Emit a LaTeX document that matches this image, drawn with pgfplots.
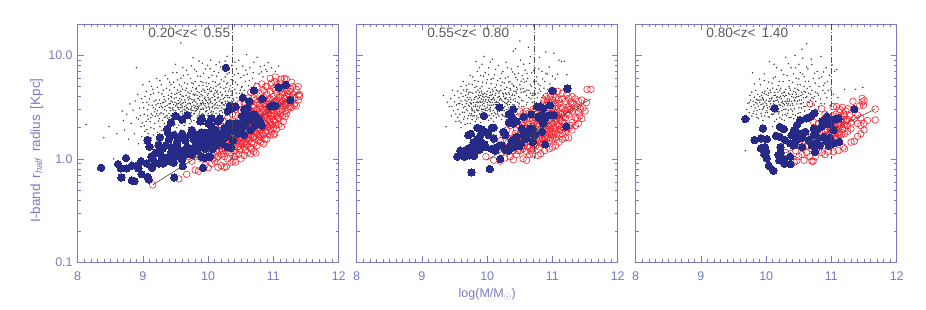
\documentclass[border=0pt]{standalone}
\usepackage{pgfplots}
\pgfplotsset{compat=1.18}
\usepackage{fontspec}
\setmainfont{Liberation Sans}
\definecolor{axc}{RGB}{122,122,192}
\definecolor{blu}{RGB}{38,42,134}
\definecolor{rd}{RGB}{245,35,48}
\definecolor{gt}{RGB}{90,90,90}
\pgfplotsset{
 mypanel/.style={scale only axis,width=261pt,height=238pt,anchor=south west,
  xmin=8,xmax=12,ymin=0.1,ymax=20,
  xtick={8,9,10,11,12},xticklabels={8,9,10,11,12},minor x tick num=9,
  ytick={0.1,1,10},
  tick align=inside,major tick length=6pt,minor tick length=3pt,
  axis line style={axc,line width=0.7pt},
  every tick/.style={axc,line width=0.5pt},
  every minor tick/.style={axc,line width=0.5pt},
  tick label style={font=\fontsize{12.5}{13}\selectfont,text=axc},
  xticklabel style={yshift=-6pt},
  yticklabel style={xshift=-1.5pt},
  clip mode=global,
  /pgf/number format/assume math mode=true},
 myover/.style={scale only axis,width=261pt,height=238pt,anchor=south west,
  xmin=8,xmax=12,ymin=0.1,ymax=20,hide axis},
 myblk/.style={only marks,mark=*,mark size=0.48pt,black!78,mark options={draw=none,fill=black!78}},
 myred/.style={only marks,mark=o,mark size=3.3pt,rd,mark options={line width=0.6pt,fill=none}},
 myblu/.style={only marks,mark=*,mark size=3.7pt,blu,mark options={draw=blu,fill=blu,line width=0pt}},
 myfit/.style={no marks,black!75,line width=0.55pt},
 myvert/.style={no marks,black!70,line width=0.5pt,dash pattern=on 6pt off 2pt on 1pt off 2pt},
}
\newcommand{\ztitle}[1]{\node[text=gt,font=\fontsize{13.6}{14}\selectfont,anchor=west] at (axis cs:9.03,16.4) {#1};}
\begin{document}
\begin{tikzpicture}[x=1pt,y=1pt]
\useasboundingbox (0,0) rectangle (926,309);
\begin{semilogyaxis}[mypanel,at={(77.7pt,46.7pt)},yticklabels={0.1,1.0,10.0},
 ylabel={I-band\, r$_{\mathit{half}}$\, radius\, [Kpc]},
 ylabel style={text=axc,font=\fontsize{13.5}{15}\selectfont,at={(axis description cs:-0.12,0.47)},anchor=south}]
\addplot[myblk] coordinates {(8.13,2.15)(8.4,1.6)(8.48,2.05)(8.55,1.0)(8.6,1.75)(8.68,2.9)(8.7,2.35)(8.72,1.9)(8.75,2.7)(8.78,1.55)(8.8,3.4)(8.82,2.2)(8.85,2.95)(8.87,1.75)(8.9,7.6)(8.9,2.5)(8.92,4.2)(8.93,1.4)(8.95,3.1)(8.97,2.05)(8.98,1.65)(9.0,5.2)(9.0,3.5)(9.02,2.7)(9.03,1.85)(9.05,4.5)(9.05,2.3)(9.07,3.0)(9.08,1.75)(9.1,5.6)(9.1,3.8)(9.12,2.5)(9.12,2.0)(9.14,3.3)(9.15,4.7)(9.16,1.7)(9.18,2.85)(9.18,2.2)(9.2,3.7)(9.21,6.0)(9.22,1.8)(9.23,2.6)(9.24,4.4)(9.25,3.15)(9.26,2.05)(9.28,5.2)(9.28,2.8)(9.3,3.5)(9.3,2.35)(9.31,1.65)(9.32,4.0)(9.33,3.0)(9.34,6.4)(9.35,2.55)(9.36,4.8)(9.37,3.3)(9.38,2.1)(9.39,3.8)(9.4,2.75)(9.41,5.5)(9.42,1.85)(9.42,3.1)(9.44,4.3)(9.45,2.4)(9.45,3.55)(9.46,6.8)(9.47,2.95)(9.48,4.9)(9.49,2.15)(9.5,3.25)(9.5,8.2)(9.51,3.9)(9.52,2.7)(9.53,5.8)(9.54,1.75)(9.55,4.4)(9.55,3.0)(9.56,2.35)(9.57,3.55)(9.58,13.2)(9.58,2.85)(9.59,5.0)(9.6,3.25)(9.6,4.05)(9.61,2.55)(9.62,6.4)(9.63,2.1)(9.64,3.7)(9.65,2.95)(9.65,4.6)(9.66,3.3)(9.67,7.2)(9.68,2.45)(9.68,5.3)(9.69,3.9)(9.7,2.8)(9.71,3.45)(9.72,4.3)(9.72,2.2)(9.73,6.0)(9.74,3.1)(9.75,3.75)(9.75,2.6)(9.76,4.9)(9.77,9.5)(9.78,3.3)(9.78,2.35)(9.79,4.1)(9.8,5.6)(9.8,2.9)(9.81,3.55)(9.82,7.0)(9.83,4.5)(9.84,2.6)(9.84,3.2)(9.85,3.85)(9.86,5.1)(9.87,2.85)(9.88,6.3)(9.88,3.45)(9.89,4.2)(9.9,3.0)(9.91,8.4)(9.91,3.65)(9.92,5.5)(9.93,2.7)(9.94,4.6)(9.95,3.25)(9.95,3.95)(9.96,7.4)(9.97,2.9)(9.98,5.0)(9.99,3.5)(10.0,4.3)(10.0,2.75)(10.01,6.1)(10.02,3.15)(10.03,3.8)(10.04,9.0)(10.04,4.9)(10.05,2.9)(10.06,3.45)(10.07,5.6)(10.08,4.15)(10.09,7.0)(10.1,3.05)(10.1,3.7)(10.11,4.6)(10.12,2.75)(10.13,6.3)(10.14,3.3)(10.15,5.2)(10.16,3.95)(10.17,8.6)(10.18,2.9)(10.19,4.4)(10.2,3.5)(10.2,5.8)(10.21,3.1)(10.22,7.4)(10.23,3.8)(10.24,4.8)(10.25,3.3)(10.26,6.2)(10.27,4.1)(10.28,5.3)(10.29,9.8)(10.3,3.6)(10.31,4.5)(10.32,6.8)(10.33,3.9)(10.34,5.1)(10.35,3.45)(10.36,8.0)(10.37,4.3)(10.38,5.7)(10.39,3.7)(10.4,6.5)(10.41,4.7)(10.43,7.4)(10.44,3.9)(10.45,5.2)(10.47,9.0)(10.48,4.3)(10.5,6.1)(10.52,5.0)(10.53,7.9)(10.55,4.6)(10.57,5.6)(10.59,10.2)(10.6,6.6)(10.62,5.1)(10.64,7.6)(10.66,4.9)(10.68,6.0)(10.7,8.6)(10.72,5.4)(10.75,9.6)(10.78,6.6)(10.8,7.8)(10.84,6.2)(10.88,7.3)(10.92,8.5)(10.97,7.6)(11.03,7.0)(11.08,7.9)(9.27,1.55)(9.35,1.7)(9.44,1.75)(9.52,2.0)(9.58,1.9)(9.63,1.85)(9.7,2.0)(9.33,3.75)(9.47,3.35)(9.53,3.15)(9.57,4.2)(9.62,3.5)(9.67,3.1)(9.73,3.4)(9.77,2.95)(9.82,3.05)(9.86,3.25)(9.9,4.5)(9.93,3.4)(9.97,3.65)(10.01,3.4)(10.03,4.5)(10.07,3.2)(10.11,3.4)(10.15,3.1)(10.19,3.75)(10.22,4.2)(10.26,3.6)(10.3,4.1)(9.4,3.4)(9.43,2.65)(9.48,2.6)(9.52,3.45)(9.55,2.7)(9.6,2.9)(9.64,3.2)(9.69,3.4)(9.74,2.8)(9.79,2.75)(9.83,3.4)(9.87,3.7)(9.92,3.1)(9.96,2.85)(9.99,4.7)
(9.63,3.02)(9.17,3.62)(9.91,4.08)(9.48,2.31)(10.12,5.02)(9.36,2.92)(9.77,5.31)(10.27,3.44)(9.54,3.66)(9.07,2.62)(9.83,2.48)(10.04,3.62)(9.29,4.25)(9.71,2.62)(10.18,3.26)(9.44,3.92)(9.93,3.02)(9.61,4.72)(10.33,4.72)(9.24,2.32)(9.86,4.36)(9.58,3.34)(10.08,2.86)(9.41,4.62)(9.74,4.52)(10.21,4.08)(9.34,3.22)(9.97,5.42)(9.51,2.52)(10.36,3.62)(9.12,4.18)(9.79,3.72)(10.02,3.02)(9.66,2.72)(9.46,3.12)(10.14,3.88)(9.88,2.62)(9.27,3.42)(9.56,5.18)(10.24,3.02)(9.73,3.02)(9.99,4.12)(9.38,2.48)(9.82,4.82)(10.1,4.32)(9.62,2.42)(9.49,4.22)(10.3,5.42)(9.19,3.02)(9.94,2.62)(9.69,4.42)(10.17,2.72)(9.42,2.92)(9.85,3.12)(10.06,3.92)(9.57,2.58)(9.32,3.52)(9.76,3.52)(10.22,3.52)(9.89,3.32)(9.52,4.32)(10.0,3.22)(9.65,3.52)(9.22,2.92)(10.13,3.52)(9.78,2.72)(9.43,3.62)(9.92,4.72)(10.38,3.22)(9.59,3.72)(9.31,2.72)(10.05,4.52)(9.84,3.02)(9.7,3.72)(9.47,2.72)(10.19,4.92)(9.96,3.42)(9.25,3.72)(9.61,2.72)(10.09,3.32)(9.8,4.22)(9.37,2.62)(10.26,4.52)(9.54,3.12)(9.91,2.72)(9.68,3.12)(10.15,4.22)(9.45,3.02)(9.75,3.22)(10.02,4.72)(9.28,3.22)(9.87,4.02)(9.56,3.82)(10.32,3.52)(9.72,3.82)(9.39,4.12)(9.97,3.12)(10.11,3.72)(9.6,3.42)(9.82,2.92)(9.2,3.32)(10.23,3.32)(9.5,2.92)(9.94,3.82)(9.67,2.52)(10.07,2.72)(9.42,3.42)(9.77,4.22)(10.2,2.92)(9.33,2.52)(9.89,2.52)(9.58,4.52)(10.03,3.52)(9.73,2.42)(9.15,2.62)(9.48,3.82)(9.84,3.82)(10.12,3.12)(9.62,4.02)(9.26,2.72)(9.95,4.42)(10.28,3.02)(9.53,2.42)(9.7,3.02)(9.4,3.12)(9.81,3.22)(10.06,3.12)(9.64,2.82)(9.9,3.42)(9.35,3.62)(10.17,3.62)(9.55,3.42)(9.75,2.92)(10.0,3.92)(9.46,2.52)(9.86,2.72)(10.1,4.02)(9.6,3.12)(9.3,3.12)(9.98,2.92)(9.71,4.02)(10.25,3.92)(9.43,4.02)(9.83,4.12)(10.04,2.82)(9.52,3.32)(9.92,3.52)(9.66,4.12)(10.35,4.12)(9.23,3.42)(9.78,3.62)(10.14,4.52)(9.57,3.12)(9.88,3.02)(9.41,2.52)(10.01,3.72)(9.68,2.82)(10.21,3.42)(9.49,3.52)(9.79,3.12)(9.96,3.72)
(9.02,1.42)(9.13,1.58)(9.06,1.92)(9.21,1.46)(9.17,1.95)(9.29,1.88)(9.33,2.18)(9.11,2.28)(9.25,2.45)(9.38,1.58)(9.02,2.08)(9.19,2.58)(9.41,2.22)(9.34,1.92)(9.47,2.08)(9.55,2.12)(8.96,2.62)(9.09,3.32)(8.88,3.62)(9.03,4.02)(9.16,4.32)(9.13,5.02)(9.26,5.72)(9.22,4.92)(9.31,4.62)(9.43,5.22)(9.38,5.92)(9.52,6.82)(9.47,5.52)(9.58,6.02)(9.64,5.42)(9.69,6.52)(9.61,7.62)(9.74,7.92)(9.84,6.32)(9.79,7.32)(9.93,6.72)(9.89,5.62)(10.03,7.42)(10.06,6.42)(10.11,5.52)(10.16,6.82)(10.24,5.62)(10.19,7.72)(10.29,6.62)(10.35,5.82)(10.42,5.52)(10.46,6.72)(10.51,4.92)(10.55,6.42)(10.41,8.62)(10.49,4.62)(10.58,7.22)(10.63,5.72)(10.69,6.82)(10.82,6.92)(10.86,8.02)(10.9,7.02)(9.99,8.02)(9.86,8.82)(10.12,8.12)(10.26,8.82)(9.67,4.82)(9.75,5.42)(9.53,4.62)(9.81,4.72)(9.92,5.12)(10.01,5.32)(10.08,4.82)(10.13,4.42)(10.18,5.32)(10.27,4.92)(10.35,4.52)(10.3,3.92)(10.38,3.82)(10.43,4.32)(10.48,3.72)(10.52,4.32)(9.99,2.62)(10.07,2.62)(10.14,2.52)(10.22,2.82)(10.29,2.62)(9.9,2.42)(9.74,2.32)(9.65,2.22)(9.58,2.22)(9.5,1.85)(9.38,1.78)(9.13,2.72)(9.08,2.42)(8.99,2.22)(8.93,2.42)(9.01,3.12)(9.06,3.52)(8.98,3.82)(9.16,3.12)(9.21,2.72)};
\addplot[myred] coordinates {(9.15,.56)(9.55,.64)(9.67,.71)(9.8,.78)(9.85,.76)(9.95,.87)(10.0,.82)(10.05,.9)(10.1,.95)(10.15,.83)(10.2,.86)(10.25,.83)(10.28,.84)(10.3,1.0)(10.35,.92)(10.38,.95)(10.4,1.05)(10.42,.93)(10.47,1.1)(10.5,1.0)(10.55,1.08)(10.6,1.15)(10.65,1.12)(10.7,1.18)(10.73,1.14)(10.5,1.25)(10.45,1.3)(10.4,1.2)(10.35,1.15)(10.3,1.2)(10.25,1.05)(10.2,1.1)(10.15,1.05)(10.1,1.1)(10.05,1.15)(10.0,1.3)(9.9,1.0)(9.9,1.2)(9.75,.95)(9.7,1.05)(9.65,1.15)(10.1,1.3)(10.15,1.45)(10.2,1.25)(10.25,1.35)(10.3,1.45)(10.35,1.35)(10.4,1.5)(10.45,1.45)(10.5,1.4)(10.55,1.3)(10.6,1.35)(10.65,1.3)(10.7,1.4)(10.75,1.35)(10.8,1.45)(10.85,1.4)(10.9,1.55)(10.95,1.7)(11.0,1.7)(11.02,1.75)(10.8,1.65)(10.85,1.7)(10.9,1.85)(10.95,1.95)(11.0,2.0)(11.05,1.95)(11.08,2.15)(11.12,2.05)(11.15,2.3)(11.18,2.55)(11.2,2.75)(11.25,3.2)(11.28,3.15)(11.35,3.25)(11.38,3.7)(11.4,4.0)(11.32,3.9)(11.38,4.15)(11.3,4.2)(11.25,4.0)(11.2,3.5)(11.15,3.2)(11.1,2.9)(11.05,2.6)(11.0,2.4)(10.95,2.25)(10.9,2.15)(10.85,2.0)(10.8,1.9)(10.75,1.75)(10.7,1.65)(10.65,1.6)(10.6,1.55)(10.55,1.6)(10.5,1.65)(10.45,1.7)(10.4,1.75)(10.35,1.7)(10.3,1.6)(10.25,1.55)(10.2,1.5)(10.55,1.85)(10.6,1.8)(10.65,1.9)(10.7,1.95)(10.75,2.0)(10.8,2.15)(10.85,2.3)(10.9,2.45)(10.95,2.6)(11.0,2.75)(11.05,2.9)(11.1,3.25)(11.15,3.6)(11.2,4.0)(11.25,4.5)(11.3,5.0)(11.38,5.0)(11.28,5.5)(11.2,5.9)(11.17,6.0)(11.12,5.9)(11.03,6.2)(10.95,6.0)(10.88,5.0)(10.82,5.3)(10.75,5.0)(10.65,4.4)(10.62,3.9)(10.55,3.5)(10.48,3.4)(10.42,3.0)(10.37,2.7)(10.3,2.5)(10.25,2.3)(10.2,2.1)(10.15,1.9)(10.1,1.7)(10.6,2.2)(10.65,2.3)(10.7,2.45)(10.75,2.6)(10.8,2.8)(10.85,2.95)(10.9,3.1)(10.95,3.3)(11.0,3.5)(11.05,3.7)(11.1,4.0)(11.15,4.4)(11.2,4.7)(11.1,4.6)(11.05,4.3)(11.0,4.0)(10.95,3.8)(10.9,3.6)(10.85,3.4)(10.8,3.2)(10.75,3.0)(10.7,2.85)(10.65,2.7)(10.6,2.55)(10.55,2.4)(10.5,2.25)(10.45,2.05)(10.4,2.3)(10.35,2.15)(10.3,2.0)(10.25,1.85)(10.2,1.7)(10.7,3.3)(10.75,3.5)(10.8,3.7)(10.85,3.95)(10.9,4.2)(10.95,4.5)(11.0,4.8)(11.05,5.2)(11.1,5.4)(10.9,5.0)(10.85,4.6)(10.8,4.3)(10.75,4.1)(10.7,3.9)(10.65,3.5)(10.6,3.2)(10.5,2.9)(10.55,2.9)(10.97,5.4)(11.02,5.6)(11.35,4.7)(11.4,4.2)(11.33,3.45)(11.22,3.0)(11.18,2.9)(11.08,2.45)(11.03,2.25)(10.98,2.15)(10.93,2.05)(10.88,1.8)(10.83,1.75)(10.78,1.6)(10.72,1.55)(10.67,1.45)(10.62,1.5)(10.57,1.45)(10.52,1.5)(10.47,1.55)(10.42,1.4)(10.37,1.5)(10.32,1.3)(10.27,1.25)(10.22,1.2)(10.17,1.2)(10.12,1.2)(10.07,1.0)(10.02,1.05)(9.97,1.1)(9.85,1.1)(9.8,1.05)(11.12,3.5)(11.07,3.3)(11.02,3.1)(10.97,2.95)(10.92,2.8)(10.87,2.65)(10.82,2.5)(10.77,2.3)(10.72,2.2)(10.67,2.05)(10.62,2.0)(10.57,2.05)(10.52,2.0)(10.47,1.9)(11.17,3.9)(11.22,4.3)(11.27,4.7)(11.13,4.2)(11.08,3.9)(11.03,3.6)(10.98,3.4)(10.93,3.4)(10.88,3.2)(10.83,3.05)(10.78,2.85)(10.73,2.65)(10.68,2.5)(10.63,2.4)(10.58,2.25)
(10.66,1.72)(10.83,2.08)(10.58,1.38)(10.94,2.42)(10.72,1.82)(10.48,1.22)(11.06,2.72)(10.77,2.42)(10.62,1.68)(10.91,2.02)(10.35,1.25)(11.13,3.02)(10.52,1.78)(10.87,2.52)(10.68,2.18)(10.99,3.22)(10.42,1.62)(10.78,1.72)(11.09,3.62)(10.55,1.42)(10.93,2.72)(10.71,2.12)(10.37,1.82)(11.16,3.42)(10.63,2.12)(10.84,2.82)(10.5,1.58)(11.01,2.32)(10.74,2.32)(10.27,1.42)(10.97,2.62)(10.59,1.95)(10.89,2.12)(10.44,1.82)(11.04,3.42)(10.69,1.62)(10.81,2.42)(10.33,1.62)(11.11,2.72)(10.56,1.72)(10.92,3.02)(10.76,1.92)(10.46,1.32)(11.0,3.22)(10.64,2.22)(10.86,2.22)(10.39,1.42)(11.07,2.52)(10.73,2.95)(10.53,2.15)(10.96,2.12)(10.82,2.02)(10.61,1.62)(10.23,1.12)(10.13,1.02)(10.18,1.32)(10.28,1.52)(10.43,1.12)(10.57,1.22)(10.67,1.25)(10.77,1.5)(10.87,1.55)(10.97,1.82)(11.18,3.3)(11.23,3.72)(11.14,2.62)(11.04,2.12)(10.88,2.72)(10.79,3.42)(10.69,3.12)(10.59,2.72)(10.49,2.52)(10.39,1.98)(10.29,1.75)(10.83,3.62)(10.93,3.82)(11.03,4.62)(11.13,4.82)(10.73,3.72)(10.63,3.02)(11.32,3.3)(11.26,3.52)};
\addplot[myblu] coordinates {(8.36,.82)(8.62,.89)(8.66,.81)(8.67,.66)(8.74,1.02)(8.75,.81)(8.83,.86)(8.83,.62)(8.87,.61)(8.91,.86)(8.93,.81)(8.98,.71)(8.97,.95)(9.06,.9)(9.07,.67)(9.09,.63)(9.07,1.52)(9.1,1.31)(9.14,.82)(9.13,1.05)(9.18,.9)(9.25,.9)(9.31,.9)(9.47,.92)(9.48,.66)(9.61,.85)(9.26,1.61)(9.24,1.36)(9.15,1.0)(9.2,1.15)(9.3,1.25)(9.28,1.08)(9.35,1.35)(9.36,1.02)(9.4,.95)(9.42,1.1)(9.43,1.3)(9.4,1.55)(9.37,1.95)(9.38,1.8)(9.43,2.25)(9.5,2.6)(9.6,2.4)(9.68,2.65)(9.47,1.7)(9.52,1.45)(9.55,1.2)(9.5,1.05)(9.58,1.05)(9.6,.98)(9.55,1.6)(9.6,1.75)(9.65,1.5)(9.68,1.3)(9.7,1.15)(9.62,1.2)(9.72,1.7)(9.75,1.9)(9.78,1.55)(9.8,1.35)(9.75,1.1)(9.82,1.7)(9.85,1.5)(9.88,2.3)(9.9,2.45)(9.9,1.8)(9.92,1.6)(9.95,1.4)(9.95,1.25)(9.9,1.05)(9.92,.82)(9.95,1.02)(10.0,1.05)(10.03,1.05)(10.0,1.5)(10.0,1.8)(10.05,2.05)(10.05,2.45)(10.0,2.2)(10.08,1.7)(10.1,1.5)(10.12,1.9)(10.15,2.3)(10.18,2.45)(10.2,1.6)(10.22,1.4)(10.25,2.0)(10.25,1.75)(10.27,7.6)(10.3,1.3)(10.35,1.28)(10.3,1.65)(10.32,2.2)(10.35,1.9)(10.3,2.9)(10.33,3.25)(10.38,3.1)(10.42,3.2)(10.4,2.0)(10.45,1.75)(10.5,1.9)(10.5,2.2)(10.52,2.6)(10.53,3.9)(10.55,3.0)(10.6,2.7)(10.6,3.1)(10.63,3.6)(10.6,2.3)(10.65,1.9)(10.55,1.7)(10.7,2.3)(10.7,2.7)(10.7,4.6)(10.75,2.5)(10.8,2.2)(10.82,2.1)(10.83,3.8)(10.95,3.2)(11.0,3.3)(11.03,3.25)(11.08,4.9)(11.19,5.2)(11.26,3.7)(9.3,1.0)(9.45,1.2)(9.53,1.3)(9.65,1.1)(9.72,1.25)(9.78,1.75)(9.83,1.2)(9.88,1.3)(9.97,1.65)(10.03,1.35)(10.07,1.25)(10.13,1.35)(10.18,1.75)(10.23,1.55)(10.28,1.85)(10.38,1.5)(10.42,2.2)(10.47,2.1)(10.57,2.1)(10.62,2.5)(10.67,2.6)(10.72,2.1)(10.78,2.4)};
\ztitle{0.20<z<\, 0.55}
\end{semilogyaxis}
\begin{semilogyaxis}[myover,at={(77.7pt,46.7pt)}]
\addplot[myfit] coordinates {(9.15,.56)(11.4,4.4)};
\addplot[myvert] coordinates {(10.37,20)(10.37,1.0)};
\end{semilogyaxis}
\begin{semilogyaxis}[mypanel,at={(356.7pt,46.7pt)},yticklabels={},
 xlabel={log(M/M$_\odot$)},
 xlabel style={text=axc,font=\fontsize{12.5}{13}\selectfont,yshift=-1pt}]
\addplot[myblk] coordinates {(9.33,4.1)(9.37,2.05)(9.42,3.2)(9.45,2.6)(9.47,4.6)(9.5,3.55)(9.52,2.3)(9.55,3.0)(9.57,3.9)(9.58,2.7)(9.6,4.3)(9.6,2.0)(9.62,3.35)(9.63,5.6)(9.65,2.55)(9.66,3.7)(9.68,3.0)(9.69,4.7)(9.7,2.2)(9.71,3.3)(9.72,5.3)(9.73,2.75)(9.74,3.9)(9.75,4.4)(9.76,3.1)(9.77,2.4)(9.78,6.2)(9.79,3.5)(9.8,2.9)(9.81,4.9)(9.82,3.2)(9.83,4.0)(9.84,2.6)(9.85,7.0)(9.85,3.55)(9.86,5.6)(9.87,2.95)(9.88,4.4)(9.89,3.25)(9.9,6.4)(9.9,2.7)(9.91,3.8)(9.92,5.0)(9.93,3.0)(9.94,4.2)(9.95,9.8)(9.95,3.45)(9.96,2.8)(9.97,6.8)(9.98,3.75)(9.99,5.4)(10.0,3.15)(10.0,4.5)(10.01,2.65)(10.02,7.6)(10.03,3.6)(10.04,4.1)(10.05,2.9)(10.06,5.9)(10.07,3.3)(10.08,9.2)(10.08,4.7)(10.09,3.85)(10.1,2.6)(10.11,6.5)(10.12,3.1)(10.13,4.3)(10.14,5.2)(10.15,3.5)(10.16,2.85)(10.17,8.0)(10.18,4.0)(10.19,3.7)(10.2,6.0)(10.21,4.6)(10.22,3.35)(10.23,2.7)(10.24,7.0)(10.25,4.2)(10.26,5.4)(10.27,3.2)(10.28,3.8)(10.29,8.6)(10.3,4.9)(10.31,3.5)(10.32,6.2)(10.33,4.4)(10.34,2.95)(10.35,5.6)(10.36,3.75)(10.37,7.4)(10.38,4.1)(10.39,3.35)(10.4,11.0)(10.41,5.0)(10.42,6.6)(10.43,3.6)(10.44,4.5)(10.45,3.0)(10.46,5.8)(10.47,7.8)(10.48,4.0)(10.49,3.4)(10.5,5.2)(10.51,9.0)(10.52,4.4)(10.53,3.7)(10.54,6.4)(10.55,4.8)(10.56,3.2)(10.57,5.5)(10.58,7.2)(10.6,4.1)(10.61,3.5)(10.62,6.0)(10.63,12.0)(10.64,4.6)(10.65,8.4)(10.66,5.2)(10.67,3.8)(10.68,6.8)(10.7,4.3)(10.71,5.6)(10.72,3.6)(10.73,7.6)(10.74,4.8)(10.76,6.2)(10.77,3.9)(10.78,5.3)(10.8,9.6)(10.82,4.5)(10.84,7.0)(10.86,4.1)(10.88,5.6)(10.9,10.8)(10.92,6.6)(10.93,4.7)(10.96,5.3)(11.0,6.3)(11.02,10.5)(11.05,4.7)(11.08,6.6)(11.1,9.0)(11.14,8.7)(11.18,8.8)(11.22,6.5)(10.43,11.6)(10.5,13.8)(9.72,3.75)(9.76,3.4)(9.8,3.75)(9.84,3.0)(9.87,3.5)(9.9,4.1)(9.93,3.55)(9.96,4.3)(9.98,3.05)(10.01,3.95)(10.03,3.0)(10.05,4.4)(10.07,3.75)(10.1,3.35)(10.12,4.9)(10.14,3.6)(10.17,3.2)(10.19,4.5)(10.21,3.0)(10.24,3.6)(10.27,4.7)(10.3,3.0)(10.33,3.6)(10.35,4.8)(10.38,5.3)(10.42,4.1)(10.46,4.7)(10.5,3.9)(9.6,2.25)(9.66,2.15)(9.7,2.45)(9.74,2.2)(9.78,2.6)(9.82,2.3)(9.86,2.5)(9.9,2.25)(9.94,2.45)(9.98,2.55)(10.02,2.35)(10.06,2.45)(10.1,2.3)(10.14,2.5)(10.18,2.6)(10.22,2.4)(10.26,2.55)(10.3,2.6)(9.88,3.95)(9.92,2.85)(9.95,3.95)(10.0,3.5)(10.04,3.3)(10.09,2.95)(10.13,3.35)(10.16,4.5)(10.2,3.25)(10.25,3.1)(10.29,3.9)(10.34,3.35)(10.37,3.2)
(9.83,3.52)(10.16,3.92)(9.71,2.62)(10.03,4.82)(9.93,3.32)(10.27,3.52)(9.78,4.32)(10.11,2.82)(9.64,3.12)(10.39,4.22)(9.88,2.72)(10.06,3.72)(9.75,3.42)(10.21,5.12)(9.97,2.92)(10.33,3.12)(9.58,3.42)(9.86,4.62)(10.14,3.22)(10.47,3.52)(9.69,3.62)(10.01,3.32)(9.91,4.52)(10.24,4.32)(9.8,2.62)(10.08,3.52)(10.36,4.62)(9.62,2.82)(9.94,3.72)(10.18,3.02)(9.73,3.22)(10.05,3.12)(10.3,4.22)(9.85,3.22)(10.12,4.12)(9.67,4.12)(9.99,4.22)(10.42,3.32)(9.77,2.92)(10.22,3.72)(9.89,4.82)(10.07,2.72)(9.56,3.42)(10.26,2.92)(9.95,3.02)(10.16,2.72)(9.81,3.92)(10.35,3.92)(9.7,2.92)(10.02,3.72)(10.19,4.02)(9.87,4.12)(10.1,3.92)(9.63,4.02)(10.45,4.32)(9.92,4.32)(10.28,4.32)(9.76,3.72)(10.05,3.52)(9.84,2.42)(10.14,4.62)(9.97,3.62)(10.32,3.72)(9.68,3.42)(10.23,3.22)(9.9,3.52)(10.09,4.52)(9.79,3.22)(10.4,3.72)(10.0,2.92)(9.74,3.52)(10.17,3.52)(9.94,2.62)(10.25,4.02)(9.83,4.42)(10.06,4.12)(9.6,3.62)(10.31,3.32)(9.88,3.12)(10.12,3.52)(10.48,3.22)(9.72,4.42)(9.96,3.22)(10.2,3.82)(9.81,2.82)(10.36,3.52)(10.03,3.92)(9.91,3.02)(10.15,3.02)(9.66,3.22)(10.27,3.82)(9.86,3.82)(10.08,4.22)(9.77,3.02)(10.22,3.02)(9.98,4.02)(10.43,3.82)(9.7,3.92)(10.11,3.72)(9.89,3.62)(10.34,4.22)(10.04,3.02)(9.82,3.32)(10.18,4.32)(9.93,4.02)(10.29,3.42)(9.65,2.82)(9.75,2.62)(9.85,2.92)(10.55,3.62)(10.6,3.32)(10.64,3.92)(10.69,3.52)(10.58,4.52)(10.53,3.22)(10.72,4.12)(10.66,4.32)(10.52,5.62)(10.6,5.62)(10.68,5.02)(10.78,4.32)(10.84,3.92)(10.9,3.82)
(9.52,2.72)(9.57,2.32)(9.44,3.82)(9.55,4.52)(9.68,5.12)(9.74,6.42)(9.81,5.72)(9.88,7.62)(9.94,6.32)(9.83,8.72)(9.92,8.22)(10.05,8.62)(10.13,7.32)(10.09,6.02)(10.22,6.72)(10.28,6.02)(10.33,5.52)(10.31,7.62)(10.44,6.12)(10.48,6.72)(10.39,6.92)(10.55,5.92)(10.61,6.72)(10.71,7.12)(10.75,5.62)(10.56,8.22)(10.66,9.72)(10.79,7.42)(10.85,5.92)(10.9,6.72)(10.95,7.72)(10.98,4.92)(11.04,5.92)(10.81,5.12)(10.87,4.82)(9.77,5.22)(9.84,5.02)(9.93,5.52)(10.0,5.82)(10.06,5.32)(10.16,5.72)(10.23,5.52)(10.02,6.52)(9.71,4.22)(9.64,4.62)(10.4,5.12)(10.45,4.92)(10.51,4.72)(10.56,4.42)(10.61,4.62)(10.41,4.52)(10.69,4.12)(10.74,4.22)(10.8,4.72)(10.92,4.32)(9.76,2.72)(9.92,2.55)(10.03,2.62)(10.13,2.72)(10.24,2.62)(10.35,2.72)(9.64,2.42)(9.55,2.52)(9.48,2.92)(9.53,3.32)(9.39,3.52)(9.46,3.22)(9.5,4.12)(9.6,5.02)(9.68,4.52)};
\addplot[myred] coordinates {(9.98,1.05)(10.1,.97)(10.2,.95)(10.27,1.02)(10.35,1.05)(10.4,.98)(10.45,1.1)(10.55,1.0)(10.6,.97)(10.65,1.1)(10.7,1.12)(10.78,1.08)(10.82,1.12)(10.88,1.2)(10.95,1.25)(11.0,1.3)(11.05,1.35)(11.1,1.45)(11.2,1.6)(11.25,1.6)(11.15,1.55)(11.3,1.9)(11.35,2.1)(11.4,2.2)(11.45,2.45)(11.42,2.6)(11.5,2.9)(11.47,3.1)(11.52,3.5)(11.45,3.7)(11.4,3.6)(11.35,3.8)(11.3,4.0)(11.25,3.85)(11.2,3.6)(11.15,4.3)(11.08,4.5)(11.53,4.7)(11.59,4.7)(11.15,3.8)(11.1,3.4)(11.05,3.9)(11.0,3.7)(10.95,3.5)(10.9,4.0)(10.85,3.4)(10.8,3.1)(10.75,2.9)(10.7,3.0)(10.65,2.8)(10.6,2.9)(10.55,2.75)(10.5,2.9)(10.45,2.5)(10.4,2.4)(10.35,2.1)(10.3,1.9)(10.25,1.7)(10.2,1.5)(10.15,1.4)(10.1,1.25)(10.3,1.2)(10.35,1.35)(10.4,1.2)(10.45,1.3)(10.5,1.2)(10.55,1.25)(10.6,1.18)(10.65,1.3)(10.7,1.25)(10.75,1.35)(10.8,1.3)(10.85,1.4)(10.9,1.45)(10.95,1.5)(11.0,1.55)(11.05,1.6)(11.1,1.7)(11.15,1.75)(11.2,1.85)(11.25,2.0)(11.3,2.25)(11.35,2.5)(11.4,2.85)(11.35,3.1)(11.3,2.9)(11.25,2.7)(11.2,2.5)(11.15,2.3)(11.1,2.1)(11.05,1.95)(11.0,1.85)(10.95,1.75)(10.9,1.7)(10.85,1.6)(10.8,1.55)(10.75,1.55)(10.7,1.5)(10.65,1.5)(10.6,1.45)(10.55,1.5)(10.5,1.45)(10.45,1.5)(10.4,1.6)(10.35,1.55)(10.5,1.7)(10.55,1.8)(10.6,1.7)(10.65,1.75)(10.7,1.8)(10.75,1.85)(10.8,1.8)(10.85,1.9)(10.9,2.0)(10.95,2.1)(11.0,2.2)(11.05,2.3)(11.1,2.5)(11.15,2.7)(11.2,2.95)(11.25,3.2)(11.3,3.4)(11.15,3.1)(11.1,2.85)(11.05,2.65)(11.0,2.55)(10.95,2.4)(10.9,2.3)(10.85,2.2)(10.8,2.15)(10.75,2.1)(10.7,2.05)(10.65,2.05)(10.6,2.0)(10.55,2.1)(10.5,2.05)(10.45,1.9)(10.6,2.4)(10.65,2.45)(10.7,2.4)(10.75,2.45)(10.8,2.6)(10.85,2.7)(10.9,2.8)(10.95,2.9)(11.0,3.1)(11.05,3.2)(10.85,3.0)(10.9,3.3)(10.95,3.1)(11.0,3.35)(11.05,3.5)(10.87,3.7)(11.02,4.2)(10.97,4.0)(10.92,3.8)(11.22,4.2)(11.28,3.55)(11.33,3.4)(11.38,3.2)(11.43,3.05)(11.38,2.45)(11.28,2.1)(11.22,1.95)(11.17,2.0)(11.12,1.9)(11.07,1.75)(11.02,1.7)(10.97,1.6)(10.92,1.6)(10.87,1.5)(10.82,1.42)(10.77,1.45)(10.72,1.38)(10.67,1.2)(10.62,1.3)(10.57,1.35)(10.52,1.3)(10.47,1.2)(10.42,1.4)(10.37,1.25)(10.32,1.45)(10.27,1.3)(10.22,1.15)(11.27,3.0)(11.22,2.75)(11.17,2.55)(11.12,2.35)(11.07,2.15)(11.02,2.0)(10.97,1.95)(10.92,1.85)(10.87,1.75)
(10.73,1.62)(10.88,2.08)(10.63,1.62)(10.98,2.32)(10.78,1.92)(11.08,2.62)(10.68,1.92)(10.83,2.32)(11.13,2.72)(10.58,1.62)(10.93,2.52)(10.72,2.22)(11.03,2.82)(10.48,1.62)(10.82,1.7)(11.18,2.22)(10.62,2.22)(10.97,2.72)(10.77,2.72)(11.06,2.42)(10.52,1.88)(10.88,2.52)(10.67,2.62)(11.12,3.12)(10.92,2.12)(10.73,2.92)(11.01,2.95)(10.57,2.42)(10.83,2.92)(11.23,3.02)(10.43,1.75)(10.98,3.52)(11.09,3.72)(10.78,1.72)(11.14,2.05)(10.63,1.85)(10.93,1.92)(10.53,1.58)(11.04,1.82)(10.88,1.62)(10.73,1.42)};
\addplot[myblu] coordinates {(9.54,1.05)(9.59,1.2)(9.63,1.18)(9.76,.74)(10.04,.8)(9.65,1.05)(9.73,1.08)(9.8,1.07)(9.82,1.2)(9.75,1.3)(9.71,1.7)(9.75,1.75)(9.85,2.0)(9.92,1.92)(9.9,1.7)(9.97,1.83)(10.02,1.7)(10.07,2.0)(10.1,2.0)(10.1,1.57)(9.95,2.6)(10.19,3.15)(9.87,1.4)(9.79,1.45)(9.94,1.3)(9.91,1.45)(9.96,1.38)(10.07,1.25)(10.15,1.3)(10.22,1.35)(10.2,1.0)(10.25,1.83)(10.28,1.7)(10.33,2.7)(10.4,3.0)(10.38,2.55)(10.33,2.25)(10.4,2.2)(10.45,2.3)(10.33,1.2)(10.4,1.3)(10.38,1.5)(10.45,1.63)(10.49,1.33)(10.53,1.97)(10.56,2.55)(10.58,1.83)(10.6,1.57)(10.66,1.97)(10.68,2.7)(10.7,1.45)(10.76,3.2)(10.81,3.2)(10.86,3.1)(10.84,2.65)(10.89,2.45)(10.97,2.65)(11.02,2.65)(10.86,2.2)(10.84,1.83)(10.89,1.38)(10.96,3.3)(11.0,4.55)(11.23,4.78)(11.21,2.05)(9.68,1.15)(9.84,1.28)(9.88,1.22)(9.98,1.3)(10.12,1.2)(10.28,1.22)(10.36,1.35)(10.44,1.5)(10.52,1.4)(10.55,1.7)(10.62,1.75)(10.7,1.95)(10.73,1.7)(10.78,2.55)(10.82,2.45)(10.92,2.6)(9.8,1.3)(9.85,1.55)(9.7,1.25)};
\ztitle{0.55<z<\, 0.80}
\end{semilogyaxis}
\begin{semilogyaxis}[myover,at={(356.7pt,46.7pt)}]
\addplot[myfit] coordinates {(9.99,.97)(11.59,3.8)};
\addplot[myvert] coordinates {(10.72,20)(10.72,1.0)};
\end{semilogyaxis}
\begin{semilogyaxis}[mypanel,at={(635.7pt,46.7pt)},yticklabels={}]
\addplot[myblk] coordinates {(9.68,1.2)(9.7,3.0)(9.72,3.45)(9.74,2.8)(9.75,4.1)(9.77,3.2)(9.78,2.6)(9.79,6.8)(9.8,3.6)(9.81,2.9)(9.82,3.95)(9.83,3.1)(9.84,4.6)(9.85,2.7)(9.86,3.4)(9.87,4.2)(9.88,2.45)(9.89,3.7)(9.9,3.0)(9.91,5.2)(9.92,3.35)(9.93,2.6)(9.94,4.4)(9.95,3.8)(9.96,3.1)(9.97,5.7)(9.98,3.55)(9.99,2.8)(10.0,4.2)(10.01,3.3)(10.02,4.8)(10.03,2.55)(10.04,3.6)(10.05,8.7)(10.06,3.0)(10.07,4.4)(10.08,3.8)(10.09,5.4)(10.1,2.7)(10.11,3.4)(10.12,4.1)(10.13,2.3)(10.14,6.2)(10.15,3.65)(10.16,4.7)(10.17,3.1)(10.18,2.85)(10.19,5.1)(10.2,3.9)(10.21,2.5)(10.22,3.3)(10.23,7.2)(10.24,4.3)(10.25,3.6)(10.26,5.6)(10.27,3.0)(10.28,4.0)(10.29,2.7)(10.3,9.6)(10.3,4.7)(10.31,3.45)(10.32,6.4)(10.33,3.8)(10.34,2.95)(10.35,5.0)(10.36,4.2)(10.37,3.3)(10.38,7.6)(10.39,3.6)(10.4,5.5)(10.41,2.7)(10.42,4.5)(10.43,3.05)(10.44,10.0)(10.45,3.9)(10.46,6.0)(10.47,3.4)(10.48,4.7)(10.49,2.75)(10.5,8.2)(10.51,3.7)(10.52,5.2)(10.53,4.1)(10.54,3.1)(10.55,11.5)(10.56,6.6)(10.57,3.5)(10.58,4.5)(10.59,2.9)(10.6,5.6)(10.61,3.9)(10.62,13.0)(10.63,3.3)(10.64,7.4)(10.65,4.3)(10.66,3.0)(10.67,5.0)(10.68,3.7)(10.69,9.2)(10.7,4.6)(10.71,3.4)(10.72,6.0)(10.73,2.9)(10.74,4.0)(10.75,5.4)(10.76,3.6)(10.78,7.0)(10.79,4.3)(10.8,3.2)(10.81,5.0)(10.83,3.8)(10.84,9.8)(10.85,6.2)(10.87,4.6)(10.89,3.4)(10.9,5.4)(10.92,7.6)(10.93,3.9)(10.95,4.6)(10.97,6.4)(10.98,3.3)(11.0,5.6)(11.01,8.1)(11.03,4.2)(11.05,7.0)(11.08,7.3)(11.1,3.9)(11.37,4.7)(11.48,4.9)(11.2,4.7)(9.85,3.75)(9.9,4.0)(9.95,3.4)(9.97,4.3)(10.0,3.7)(10.03,4.1)(10.05,3.2)(10.07,3.4)(10.09,3.9)(10.11,3.6)(10.13,4.4)(10.15,3.3)(10.17,4.0)(10.19,3.55)(10.21,4.6)(10.23,3.8)(10.25,3.2)(10.27,4.4)(10.29,3.6)(10.31,4.1)(10.33,3.3)(10.35,3.6)(10.37,4.6)(10.39,4.0)(10.41,3.3)(10.43,3.7)(10.45,4.4)(10.47,4.0)(10.5,4.6)(10.52,3.4)(10.54,4.4)(10.57,3.9)(10.6,4.4)(10.63,4.8)(10.66,3.5)(10.7,3.9)(9.92,2.75)(9.98,2.6)(10.02,2.8)(10.08,2.7)(10.15,2.85)(10.2,2.85)(10.25,2.65)(10.33,2.75)(10.4,2.9)(10.45,2.65)(10.52,2.8)(10.6,3.2)(10.68,3.2)(10.74,3.3)(10.2,2.2)(10.1,2.05)(9.95,2.35)(10.28,2.35)(10.35,2.5)(10.42,2.45)
(9.96,3.72)(10.26,3.42)(10.06,4.62)(10.44,3.62)(9.88,3.22)(10.16,3.92)(10.34,4.32)(10.02,3.12)(10.54,3.72)(9.93,4.12)(10.24,2.92)(10.12,3.62)(10.4,4.22)(9.84,3.52)(10.18,4.42)(10.3,3.02)(10.0,3.42)(10.5,3.12)(9.94,3.02)(10.22,4.02)(10.36,3.72)(10.08,3.22)(10.58,3.22)(9.9,3.52)(10.14,2.92)(10.46,4.22)(10.04,4.32)(10.28,4.42)(9.81,3.32)(10.38,3.02)(10.17,3.72)(9.98,4.52)(10.64,3.52)(10.11,2.72)(10.32,3.62)(10.48,3.62)(9.87,3.72)(10.2,3.32)(10.42,3.92)(10.06,3.62)(10.56,4.22)(9.92,3.72)(10.26,4.12)(10.14,4.12)(10.72,3.82)(10.01,2.92)(10.34,3.42)(10.5,4.02)(9.86,2.92)(10.24,3.52)(10.62,4.02)(10.1,4.82)(10.4,3.42)(9.97,3.22)(10.19,2.72)(10.3,4.12)(10.68,4.22)(10.05,3.82)(10.54,3.42)(10.44,4.82)(10.22,4.82)(10.12,3.02)(10.36,4.82)(9.94,3.92)(10.76,4.42)(10.58,5.02)(10.48,5.22)(10.28,3.32)
(9.82,5.32)(9.9,5.92)(9.97,6.62)(10.04,5.52)(10.11,6.02)(10.2,5.62)(10.27,6.52)(10.16,7.62)(10.35,5.72)(10.42,6.62)(10.5,5.92)(10.58,6.22)(10.65,5.62)(10.52,6.82)(10.62,7.72)(10.74,6.72)(10.81,6.02)(10.88,5.12)(10.94,5.62)(10.99,4.72)(10.88,6.92)(10.34,8.32)(10.45,7.62)(10.7,8.12)(10.56,9.42)(10.12,8.22)(10.9,4.32)(10.8,4.12)(10.84,3.42)(10.76,3.02)(10.7,2.72)(9.86,2.52)(10.05,2.52)(10.16,2.42)(10.24,2.42)(10.31,2.62)(10.38,2.52)(10.48,2.55)(9.74,3.52)(9.78,4.42)(9.8,2.75)(9.76,3.7)};
\addplot[myred] coordinates {(10.3,1.15)(10.43,.93)(10.47,.96)(10.5,1.05)(10.55,1.1)(10.58,.97)(10.62,1.15)(10.67,1.05)(10.7,.95)(10.72,.95)(10.75,1.05)(10.8,1.2)(10.85,1.15)(10.9,1.1)(10.95,1.18)(11.03,1.17)(11.1,1.2)(11.18,1.3)(11.2,1.25)(11.3,1.45)(11.35,1.48)(11.4,1.65)(11.45,1.75)(11.5,1.9)(11.45,2.1)(11.4,2.2)(11.5,2.2)(11.67,2.38)(11.55,2.35)(11.67,3.03)(11.49,3.3)(11.43,3.25)(11.47,3.85)(11.5,3.65)(11.47,3.55)(11.33,3.6)(11.25,3.05)(11.17,3.15)(11.13,3.0)(11.08,3.2)(11.03,3.2)(10.85,3.05)(10.67,3.4)(10.72,2.3)(10.8,2.2)(10.9,2.7)(10.95,2.55)(11.0,2.4)(11.05,2.3)(11.1,2.5)(11.15,2.55)(11.2,2.6)(11.25,2.4)(11.3,2.25)(11.35,2.45)(11.4,2.65)(11.45,2.5)(11.3,1.95)(11.25,1.85)(11.2,1.75)(11.15,1.7)(11.1,1.6)(11.05,1.55)(11.0,1.5)(10.95,1.45)(10.9,1.35)(10.85,1.45)(10.8,1.4)(10.75,1.3)(10.7,1.25)(10.65,1.35)(10.6,1.45)(10.55,1.3)(10.5,1.35)(10.45,1.2)(10.95,1.75)(11.0,1.7)(11.05,1.85)(11.1,1.95)(11.15,2.05)(11.2,2.15)(11.25,2.1)(11.15,2.3)(11.1,2.2)(11.05,2.05)(11.0,2.0)(10.95,2.05)(10.9,1.9)(10.85,1.8)(10.8,1.7)(10.75,1.55)(10.7,1.55)(10.65,1.6)(10.6,1.7)(10.55,1.6)(10.9,2.2)(10.85,2.1)(10.8,1.95)(10.75,1.85)(10.9,1.55)(10.95,1.65)(11.0,1.85)(11.05,1.7)(11.1,1.8)(11.2,1.95)(11.18,2.4)(11.12,2.85)(11.07,2.7)(11.02,2.6)(11.22,2.9)
(11.13,2.12)(11.06,1.92)(11.17,1.92)(11.03,2.22)(11.23,2.32)(11.09,2.38)(11.14,2.42)(10.98,1.92)(11.19,2.72)(11.28,2.62)(11.12,1.72)(10.93,2.42)(11.07,1.62)};
\addplot[myblu] coordinates {(9.68,2.43)(10.13,3.08)(9.95,1.97)(9.82,1.52)(9.92,1.58)(10.01,1.55)(9.92,1.26)(9.98,1.3)(9.97,1.11)(10.01,1.01)(10.04,.86)(10.11,.77)(10.21,2.04)(10.27,1.94)(10.15,1.67)(10.21,1.63)(10.29,1.52)(10.22,1.3)(10.19,1.09)(10.2,.97)(10.28,.9)(10.37,.89)(10.37,1.05)(10.39,1.7)(10.37,1.41)(10.45,1.46)(10.47,2.12)(10.52,2.37)(10.5,1.76)(10.55,1.3)(10.62,2.46)(10.68,2.56)(10.74,2.76)(10.6,1.83)(10.65,1.52)(10.73,1.97)(10.78,1.9)(10.73,1.7)(10.75,1.41)(10.75,1.17)(10.86,2.33)(10.93,2.56)(10.92,2.17)(10.88,1.63)(10.93,1.46)(10.96,1.34)(11.03,1.9)(11.06,2.43)(11.11,2.46)(11.03,1.41)(11.12,1.46)(11.35,3.03)(9.95,1.28)(10.0,1.18)(10.22,1.15)(10.25,1.0)(10.42,1.35)(10.48,1.55)(10.43,1.9)(10.56,1.6)(10.7,1.35)(10.8,1.6)(10.85,2.05)(10.98,2.2)(10.97,1.6)(10.82,1.35)};
\ztitle{0.80<z<\, 1.40}
\end{semilogyaxis}
\begin{semilogyaxis}[myover,at={(635.7pt,46.7pt)}]
\addplot[myfit] coordinates {(10.3,1.14)(11.67,3.03)};
\addplot[myvert] coordinates {(11,20)(11,1.0)};
\end{semilogyaxis}
\end{tikzpicture}
\end{document}
